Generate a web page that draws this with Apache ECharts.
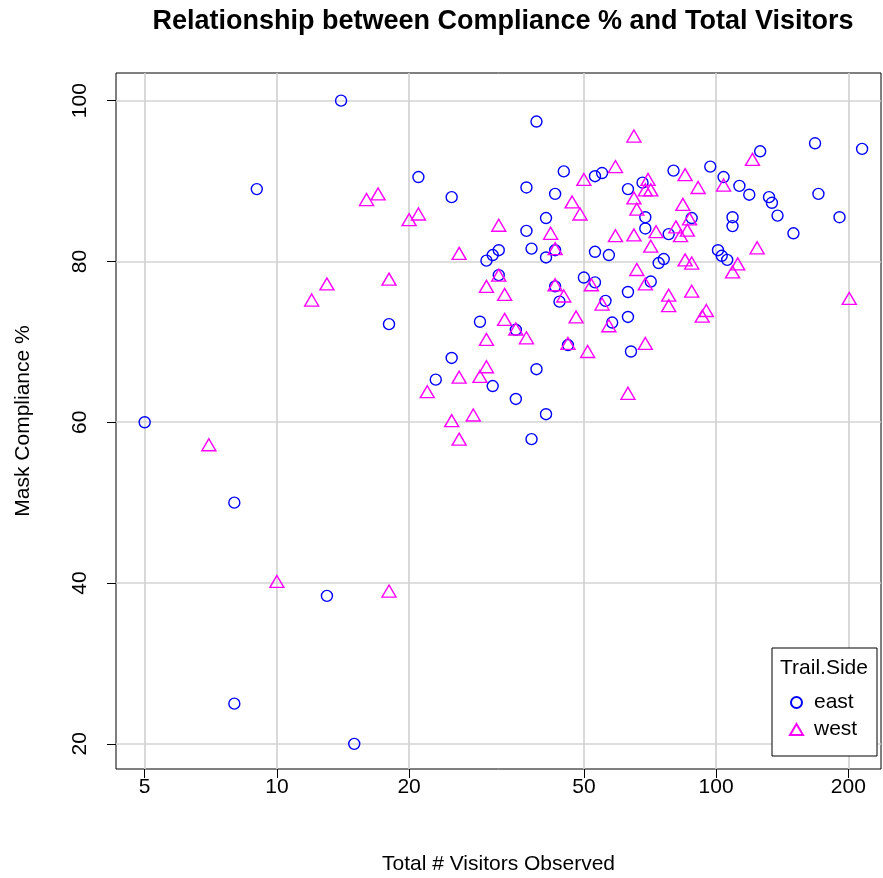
<!DOCTYPE html>
<html>
<head>
<meta charset="utf-8">
<script src="https://cdn.jsdelivr.net/npm/echarts@6/dist/echarts.min.js"></script>
<style>
  html, body { margin: 0; padding: 0; background: #ffffff; }
  #chart { width: 883px; height: 878px; }
</style>
</head>
<body>
<div id="chart"></div>
<script>
// Trail counts: visitors observed vs. share wearing masks, by side of the trail
const eastVisitors = [5, 8, 8, 9, 14, 13, 15, 18, 21, 25, 25, 23, 30, 31, 32, 32, 29, 31, 35, 39,
  45, 37, 43, 53, 55, 41, 37, 38, 41, 43, 53, 57, 50, 53, 43, 44, 56, 58, 46, 39,
  35, 41, 38, 80, 97, 104, 113, 63, 68, 69, 69, 88, 78, 109, 109, 74, 76, 101, 103, 106,
  71, 63, 126, 168, 215, 119, 132, 134, 171, 138, 191, 150, 63, 64];
const eastCompliance = [60, 50, 25, 89, 100, 38.4, 20, 72.2, 90.5, 88.0, 68.0, 65.3, 80.1, 80.8, 81.4, 78.3, 72.5, 64.5, 71.5, 97.4,
  91.2, 89.2, 88.4, 90.6, 91.0, 85.4, 83.8, 81.6, 80.5, 81.4, 81.2, 80.8, 78.0, 77.4, 76.9, 75.0, 75.1, 72.4, 69.6, 66.6,
  62.9, 61.0, 57.9, 91.3, 91.8, 90.5, 89.4, 89.0, 89.8, 85.5, 84.1, 85.4, 83.4, 85.5, 84.4, 79.8, 80.3, 81.4, 80.7, 80.2,
  77.5, 76.2, 93.7, 94.7, 94.0, 88.3, 88.0, 87.3, 88.4, 85.7, 85.5, 83.5, 73.1, 68.8];

const westVisitors = [7, 10, 18, 12, 13, 16, 17, 18, 20, 21, 26, 22, 25, 26, 26, 28, 29, 30, 30, 30,
  32, 32, 33, 33, 35, 37, 42, 43, 43, 45, 46, 47, 49, 50, 48, 51, 52, 55, 57, 59,
  59, 65, 70, 69, 71, 91, 65, 66, 84, 87, 85, 65, 73, 81, 86, 83, 71, 85, 88, 104,
  66, 69, 78, 78, 88, 93, 95, 69, 63, 121, 124, 112, 109, 201];
const westCompliance = [57.2, 40.2, 39.0, 75.2, 77.2, 87.7, 88.4, 77.8, 85.2, 85.9, 81.0, 63.8, 60.2, 57.9, 65.6, 60.9, 65.7, 66.9, 70.3, 76.9,
  84.5, 78.3, 75.9, 72.8, 71.6, 70.5, 83.5, 81.6, 77.1, 75.7, 69.8, 87.4, 85.9, 90.2, 73.1, 68.8, 77.1, 74.7, 72.0, 91.8,
  83.2, 95.6, 90.2, 88.9, 88.9, 89.2, 87.9, 86.5, 87.1, 85.3, 90.8, 83.3, 83.7, 84.3, 83.9, 83.2, 81.9, 80.2, 79.8, 89.5,
  79.0, 77.2, 75.8, 74.5, 76.3, 73.2, 73.9, 69.8, 63.6, 92.7, 81.7, 79.7, 78.7, 75.4];

const xTicks = [5, 10, 20, 50, 100, 200];
const yTicks = [20, 40, 60, 80, 100];

const FONT = '"Liberation Sans", Arial, Helvetica, sans-serif';
const EAST_COLOR = '#0000ff';
const WEST_COLOR = '#ff00ff';

const pairs = (xs, ys) => xs.map((x, i) => [x, ys[i]]);

const chart = echarts.init(document.getElementById('chart'), null, { renderer: 'canvas' });

chart.setOption({
  animation: false,
  backgroundColor: '#ffffff',
  grid: {
    left: 116, top: 73, right: 2, bottom: 109,
    containLabel: false,
    outerBoundsMode: 'none',
    show: true, borderColor: '#000000', borderWidth: 1, backgroundColor: 'transparent'
  },
  xAxis: {
    type: 'log',
    logBase: 10,
    min: 4.302,
    max: 237.4,
    name: 'Total # Visitors Observed',
    nameLocation: 'middle',
    nameGap: 85,
    nameTextStyle: { fontFamily: FONT, fontSize: 21, color: '#000' },
    axisLine: { show: false },
    axisTick: { show: true, length: 9, inside: false, customValues: xTicks, lineStyle: { color: '#000', width: 1 } },
    axisLabel: { show: true, customValues: xTicks, margin: 8, fontFamily: FONT, fontSize: 21, color: '#000',
      formatter: v => String(Math.round(v)) },
    splitLine: { show: true, lineStyle: { color: '#d3d3d3', width: 1.7 } },
    minorTick: { show: false },
    minorSplitLine: { show: false }
  },
  yAxis: {
    type: 'value',
    min: 16.87,
    max: 103.44,
    name: 'Mask Compliance %',
    nameLocation: 'middle',
    nameGap: 82,
    nameTextStyle: { fontFamily: FONT, fontSize: 21, color: '#000' },
    axisLine: { show: false },
    axisTick: { show: true, length: 9, customValues: yTicks, lineStyle: { color: '#000', width: 1 } },
    axisLabel: { show: true, customValues: yTicks, rotate: 90, margin: 25, fontFamily: FONT, fontSize: 21, color: '#000' },
    splitLine: { show: true, lineStyle: { color: '#d3d3d3', width: 1.7 } }
  },
  legend: {
    orient: 'vertical',
    left: 789,
    top: 692,
    z: 20,
    padding: 0,
    itemWidth: 13,
    itemHeight: 11,
    itemGap: 6,
    data: ['east', 'west'],
    textStyle: { fontFamily: FONT, fontSize: 21, color: '#000', padding: [0, 0, 0, 6] },
    selectedMode: false
  },
  graphic: [
    {
      type: 'text', x: 503, y: 22,
      style: { text: 'Relationship between Compliance % and Total Visitors', fill: '#000',
        font: 'bold 27px ' + FONT, align: 'center', verticalAlign: 'middle' }
    },
    {
      type: 'rect', shape: { x: 772, y: 648, width: 105, height: 108 },
      style: { fill: '#ffffff', stroke: '#000000', lineWidth: 1 }, z: 5
    },
    {
      type: 'text', x: 824, y: 668, z: 6,
      style: { text: 'Trail.Side', fill: '#000', font: '21px ' + FONT, align: 'center', verticalAlign: 'middle' }
    }
  ],
  series: [
    {
      name: 'east',
      type: 'scatter',
      symbol: 'circle',
      symbolSize: 11,
      data: pairs(eastVisitors, eastCompliance),
      itemStyle: { color: 'transparent', borderColor: EAST_COLOR, borderWidth: 1.4, opacity: 1 },
      emphasis: { disabled: true },
      z: 3
    },
    {
      name: 'west',
      type: 'scatter',
      symbol: 'triangle',
      symbolSize: [14, 12],
      data: pairs(westVisitors, westCompliance),
      itemStyle: { color: 'transparent', borderColor: WEST_COLOR, borderWidth: 1.4, opacity: 1 },
      emphasis: { disabled: true },
      z: 3
    }
  ]
});
</script>
</body>
</html>
